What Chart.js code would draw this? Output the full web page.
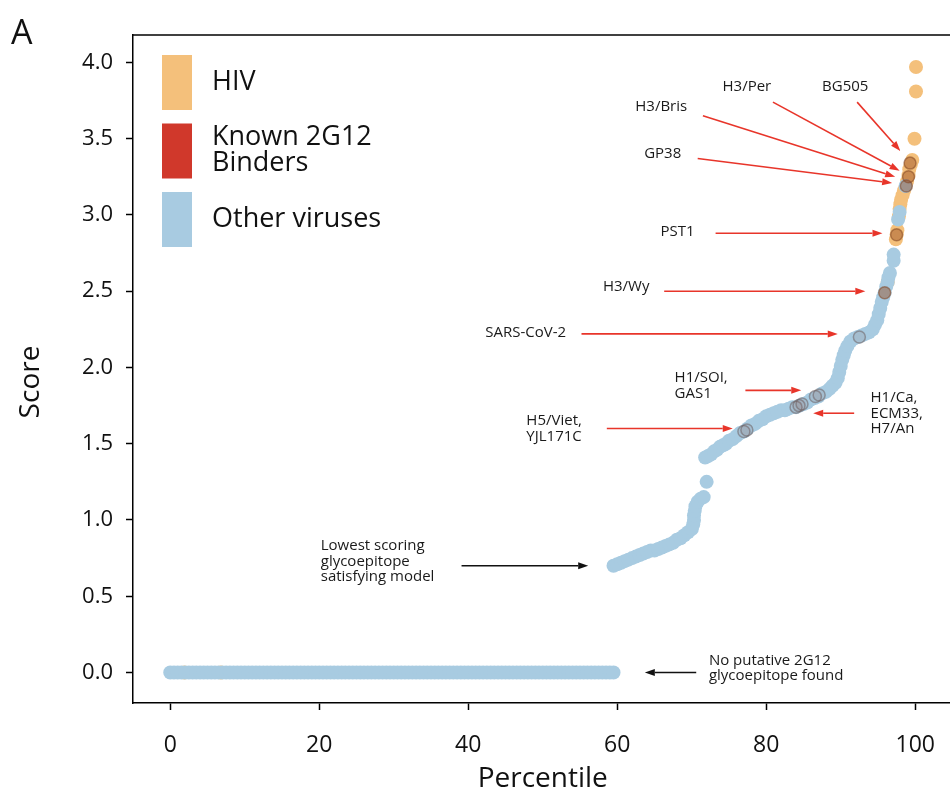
<!DOCTYPE html>
<html>
<head>
<meta charset="utf-8">
<script src="https://cdn.jsdelivr.net/npm/chart.js@4.4.1/dist/chart.umd.min.js"></script>
<style>
  html, body { margin: 0; padding: 0; background: #fff; overflow: hidden; }
  #wrap { width: 960px; height: 799px; }
</style>
</head>
<body>
<div id="wrap"><canvas id="chart" width="960" height="799"></canvas></div>
<script>
// percentiles of the run of viruses with score 0 (no glycoepitope found)
const zeroRowPct = [
  0, 0.5, 1, 1.5, 2, 2.5, 3, 3.5, 4, 4.5, 5, 5.5, 6, 6.5, 7, 7.5, 8, 8.5, 9, 9.5,
  10, 10.5, 11, 11.5, 12, 12.5, 13, 13.5, 14, 14.5, 15, 15.5, 16, 16.5, 17, 17.5, 18, 18.5, 19, 19.5,
  20, 20.5, 21, 21.5, 22, 22.5, 23, 23.5, 24, 24.5, 25, 25.5, 26, 26.5, 27, 27.5, 28, 28.5, 29, 29.5,
  30, 30.5, 31, 31.5, 32, 32.5, 33, 33.5, 34, 34.5, 35, 35.5, 36, 36.5, 37, 37.5, 38, 38.5, 39, 39.5,
  40, 40.5, 41, 41.5, 42, 42.5, 43, 43.5, 44, 44.5, 45, 45.5, 46, 46.5, 47, 47.5, 48, 48.5, 49, 49.5,
  50, 50.5, 51, 51.5, 52, 52.5, 53, 53.5, 54, 54.5, 55, 55.5, 56, 56.5, 57, 57.5, 58, 58.5, 59, 59.5
];

// other viruses with a glycoepitope
const otherPct = [
  59.5, 60.0, 60.5, 61.0, 61.5, 62.0, 62.5, 63.0, 63.5, 64.0, 64.5, 65.0, 65.5, 66.0, 66.5, 67.0,
  67.5, 68.0, 68.5, 69.0, 69.5, 70.0, 70.2, 70.3, 70.3, 70.4, 70.5, 70.8, 71.2, 71.6, 72.0,
  71.8, 72.2, 72.6, 73.0, 73.4, 73.8, 74.2, 74.6, 75.0, 75.5, 76.0, 76.5, 77.0, 77.5, 78.0, 78.5,
  79.0, 79.5, 80.0, 80.5, 81.0, 81.5, 82.0, 82.5, 83.0, 83.5, 84.0, 84.5, 85.0, 85.5, 86.0, 86.5,
  87.0, 87.5, 88.0, 88.5, 88.9, 89.3, 89.6, 89.8, 90.0, 90.2, 90.4, 90.6, 90.9, 91.3, 91.8, 92.3,
  92.8, 93.3, 93.8, 94.3, 94.6, 94.9, 95.1, 95.3, 95.5, 95.7, 95.9, 96.1, 96.3, 96.4, 96.6,
  97.1, 97.1, 97.7, 97.9, 98.7
];
const otherScore = [
  0.70, 0.71, 0.72, 0.73, 0.74, 0.75, 0.76, 0.77, 0.78, 0.79, 0.80, 0.80, 0.81, 0.82, 0.83, 0.84,
  0.85, 0.87, 0.88, 0.90, 0.92, 0.94, 0.97, 1.00, 1.03, 1.06, 1.09, 1.12, 1.14, 1.15, 1.25,
  1.41, 1.42, 1.43, 1.45, 1.46, 1.48, 1.49, 1.50, 1.52, 1.53, 1.55, 1.57, 1.58, 1.60, 1.62, 1.63,
  1.65, 1.66, 1.68, 1.69, 1.70, 1.71, 1.72, 1.72, 1.73, 1.74, 1.74, 1.75, 1.76, 1.77, 1.79, 1.80,
  1.81, 1.83, 1.84, 1.86, 1.88, 1.90, 1.93, 1.97, 2.01, 2.05, 2.08, 2.11, 2.14, 2.17, 2.19, 2.20,
  2.21, 2.22, 2.23, 2.25, 2.28, 2.31, 2.35, 2.39, 2.43, 2.46, 2.49, 2.53, 2.56, 2.59, 2.62,
  2.70, 2.74, 2.97, 3.02, 3.19
];

// HIV strains
const hivPct = [1.9, 6.8, 96.3, 97.4, 97.5, 97.6, 97.8, 97.9, 98.0, 98.1, 98.3, 98.5, 98.9, 99.1, 99.2, 99.4, 99.6, 99.9, 100.1, 100.1];
const hivScore = [0, 0, 2.56, 2.84, 2.87, 2.90, 2.99, 3.04, 3.07, 3.10, 3.13, 3.16, 3.22, 3.26, 3.30, 3.33, 3.36, 3.50, 3.81, 3.97];

// known 2G12 binders
const binderPct = [77.0, 77.4, 84.0, 84.4, 84.8, 86.6, 87.1, 92.5, 95.9, 97.5, 98.8, 99.1, 99.3];
const binderScore = [1.58, 1.59, 1.74, 1.75, 1.76, 1.81, 1.82, 2.20, 2.49, 2.87, 3.19, 3.25, 3.34];

const xTicks = [0, 20, 40, 60, 80, 100];
const yTicks = [0, 0.5, 1, 1.5, 2, 2.5, 3, 3.5, 4];

const BLUE = "#a8cbe1";
const ORANGE = "#f4c07b";
const RED = "#d0382b";
const ARROW_RED = "#e8352a";

// labels and arrows, placed in data units (percentile, score)
const notes = [
  { lines: ["BG505"], at: [90.6, 3.84], align: "center", from: [92.2, 3.74], to: [98.0, 3.42] },
  { lines: ["H3/Per"], at: [77.4, 3.84], align: "center", from: [80.9, 3.74], to: [97.9, 3.29] },
  { lines: ["H3/Bris"], at: [65.9, 3.71], align: "center", from: [71.5, 3.65], to: [97.3, 3.25] },
  { lines: ["GP38"], at: [66.1, 3.40], align: "center", from: [70.8, 3.37], to: [96.9, 3.21] },
  { lines: ["PST1"], at: [68.1, 2.89], align: "center", from: [73.2, 2.88], to: [95.6, 2.88] },
  { lines: ["H3/Wy"], at: [61.2, 2.53], align: "center", from: [66.3, 2.50], to: [93.3, 2.50] },
  { lines: ["SARS-CoV-2"], at: [47.7, 2.23], align: "center", from: [55.2, 2.22], to: [89.6, 2.22] },
  { lines: ["H1/SOI,", "GAS1"], at: [67.7, 1.93], align: "left", from: [77.2, 1.85], to: [84.7, 1.85] },
  { lines: ["H1/Ca,", "ECM33,", "H7/An"], at: [94.0, 1.80], align: "left", from: [91.8, 1.70], to: [86.3, 1.70] },
  { lines: ["H5/Viet,", "YJL171C"], at: [47.8, 1.65], align: "left", from: [58.6, 1.60], to: [75.5, 1.60] },
  { lines: ["Lowest scoring", "glycoepitope", "satisfying model"], at: [20.2, 0.83], align: "left", from: [39.1, 0.70], to: [56.1, 0.70], black: true },
  { lines: ["No putative 2G12", "glycoepitope found"], at: [72.3, 0.08], align: "left", from: [70.6, 0.0], to: [63.7, 0.0], black: true }
];

const legendItems = [
  { color: ORANGE, lines: ["HIV"] },
  { color: RED, lines: ["Known 2G12", "Binders"] },
  { color: BLUE, lines: ["Other viruses"] }
];

function toPoints(xs, ys) {
  return xs.map((x, i) => ({ x: x, y: ys[i] }));
}

function drawArrow(ctx, x1, y1, x2, y2, color) {
  const ang = Math.atan2(y2 - y1, x2 - x1);
  const head = 10, half = 3.5;
  const c = Math.cos(ang), s = Math.sin(ang);
  ctx.strokeStyle = color;
  ctx.fillStyle = color;
  ctx.lineWidth = 1.6;
  ctx.beginPath();
  ctx.moveTo(x1, y1);
  ctx.lineTo(x2 - head * c, y2 - head * s);
  ctx.stroke();
  ctx.beginPath();
  ctx.moveTo(x2, y2);
  ctx.lineTo(x2 - head * c + half * s, y2 - head * s - half * c);
  ctx.lineTo(x2 - head * c - half * s, y2 - head * s + half * c);
  ctx.closePath();
  ctx.fill();
}

const extras = {
  id: "extras",
  afterDraw(chart) {
    const ctx = chart.ctx;
    const xs = chart.scales.x, ys = chart.scales.y;
    const area = chart.chartArea;
    ctx.save();

    // top spine
    ctx.strokeStyle = "#000";
    ctx.lineWidth = 1.5;
    ctx.beginPath();
    ctx.moveTo(area.left, area.top);
    ctx.lineTo(area.right, area.top);
    ctx.stroke();

    // legend
    ctx.textAlign = "left";
    ctx.textBaseline = "middle";
    ctx.font = "27px 'Open Sans'";
    let top = 55;
    legendItems.forEach(item => {
      ctx.fillStyle = item.color;
      ctx.fillRect(162, top, 30, 55);
      ctx.fillStyle = "#111";
      const mid = top + 28;
      const n = item.lines.length;
      item.lines.forEach((t, i) => {
        ctx.fillText(t, 212, mid + (i - (n - 1) / 2) * 26 - 1);
      });
      top += 68.5;
    });

    // annotations
    notes.forEach(n => {
      const tx = xs.getPixelForValue(n.at[0]);
      const ty = ys.getPixelForValue(n.at[1]);
      ctx.fillStyle = "#1a1a1a";
      ctx.font = "15px 'Open Sans'";
      ctx.textAlign = n.align;
      ctx.textBaseline = "middle";
      n.lines.forEach((t, i) => ctx.fillText(t, tx, ty + i * 15.5));
      drawArrow(ctx,
        xs.getPixelForValue(n.from[0]), ys.getPixelForValue(n.from[1]),
        xs.getPixelForValue(n.to[0]), ys.getPixelForValue(n.to[1]),
        n.black ? "#111" : ARROW_RED);
    });

    // axis titles
    ctx.fillStyle = "#111";
    ctx.font = "28px 'Open Sans'";
    ctx.textAlign = "center";
    ctx.textBaseline = "middle";
    ctx.fillText("Percentile", (area.left + area.right) / 2, 779);
    ctx.save();
    ctx.translate(31, 382);
    ctx.rotate(-Math.PI / 2);
    ctx.fillText("Score", 0, 0);
    ctx.restore();

    // panel letter
    ctx.font = "34px 'Open Sans'";
    ctx.textAlign = "left";
    ctx.textBaseline = "alphabetic";
    ctx.fillText("A", 11, 44);

    ctx.restore();
  }
};

new Chart(document.getElementById("chart"), {
  type: "scatter",
  data: {
    datasets: [
      {
        label: "Known 2G12 Binders",
        data: toPoints(binderPct, binderScore),
        // binders sitting in the HIV cluster read brown, the rest as grey rings
        backgroundColor: c => (c.raw && c.raw.y > 2.4) ? "rgba(150,75,30,0.45)" : "rgba(140,90,80,0.12)",
        borderColor: c => (c.raw && c.raw.y > 2.4) ? "rgba(130,70,35,0.55)" : "rgba(105,90,90,0.5)",
        borderWidth: 1.5,
        pointRadius: 6
      },
      {
        label: "Other viruses",
        data: toPoints(zeroRowPct, zeroRowPct.map(() => 0)).concat(toPoints(otherPct, otherScore)),
        backgroundColor: BLUE,
        borderWidth: 0,
        pointRadius: 7
      },
      {
        label: "HIV",
        data: toPoints(hivPct, hivScore),
        backgroundColor: ORANGE,
        borderWidth: 0,
        pointRadius: 7
      }
    ]
  },
  options: {
    responsive: false,
    animation: false,
    layout: { padding: { top: 35, right: 5, left: 0, bottom: 0 } },
    plugins: {
      legend: { display: false },
      tooltip: { enabled: false }
    },
    scales: {
      x: {
        type: "linear",
        min: -5,
        max: 105,
        afterFit(scale) { scale.height = 96; },
        afterBuildTicks(scale) { scale.ticks = xTicks.map(v => ({ value: v })); },
        grid: { drawOnChartArea: false, drawTicks: true, tickLength: 7, color: "#000", tickWidth: 1.5 },
        border: { display: true, color: "#000", width: 1.5 },
        ticks: {
          color: "#111",
          padding: 22,
          maxRotation: 0,
          font: { family: "'Open Sans'", size: 23 }
        }
      },
      y: {
        type: "linear",
        min: -0.2,
        max: 4.18,
        afterFit(scale) { scale.width = 133; },
        afterBuildTicks(scale) { scale.ticks = yTicks.map(v => ({ value: v })); },
        grid: { drawOnChartArea: false, drawTicks: true, tickLength: 7, color: "#000", tickWidth: 1.5 },
        border: { display: true, color: "#000", width: 1.5 },
        ticks: {
          color: "#111",
          padding: 13,
          font: { family: "'Open Sans'", size: 22 },
          callback: v => v.toFixed(1)
        }
      }
    }
  },
  plugins: [extras]
});
</script>
</body>
</html>
